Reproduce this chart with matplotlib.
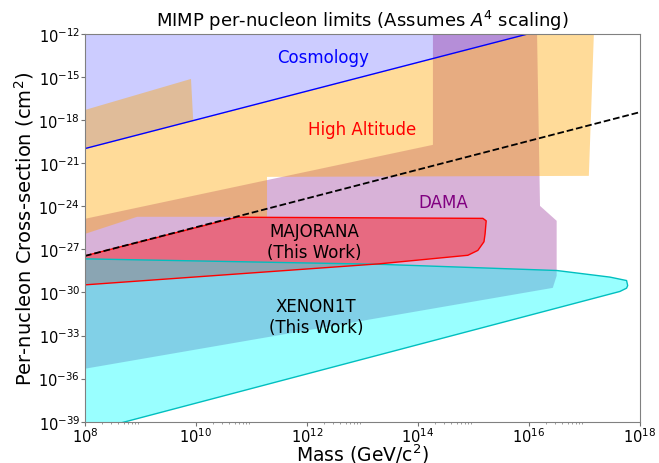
import matplotlib
matplotlib.use("Agg")
import matplotlib.pyplot as plt
import numpy as np

# Cosmology bound (line, region above it is excluded)
cosmo_mass = [1e8, 1e18]
cosmo_xsec = [1.05e-20, 1.05e-10]

# A^4 reference line (dashed)
ref_mass = [1e8, 1e18]
ref_xsec = [3.5e-28, 3.6e-18]

# High altitude experiments (outline, log10 values)
alt_logm = [8.0, 9.91, 9.95, 17.0, 17.18, 17.08, 11.28, 11.28, 8.94, 8.0]
alt_logs = [-17.29, -15.13, -18.03, -10.98, -10.98, -21.88, -21.95, -24.73, -24.73, -25.92]

# DAMA region
dama_logm = [8.0, 14.27, 14.27, 16.14, 16.20, 16.50, 16.50, 16.43, 8.0]
dama_logs = [-24.87, -19.72, -10.5, -10.5, -23.97, -25.01, -28.84, -29.68, -35.31]

# MAJORANA (this work)
maj_logm = [8.0, 10.74, 15.17, 15.23, 15.21, 15.19, 15.08, 14.90, 13.32, 8.0]
maj_logs = [-27.45, -24.76, -24.84, -25.01, -25.92, -26.47, -27.07, -27.41, -28.0, -29.47]

# XENON1T (this work)
xe_logm = [8.0, 13.32, 16.50, 17.46, 17.76, 17.78, 17.76, 17.64, 8.75, 8.0]
xe_logs = [-27.66, -28.04, -28.47, -28.93, -29.17, -29.52, -29.70, -29.93, -38.98, -39.74]

xticks = [1e8, 1e10, 1e12, 1e14, 1e16, 1e18]
yticks = [1e-39, 1e-36, 1e-33, 1e-30, 1e-27, 1e-24, 1e-21, 1e-18, 1e-15, 1e-12]

fig = plt.figure(figsize=(6.59, 4.64), dpi=100)
ax = fig.add_axes([0.129, 0.089, 0.842, 0.8356])

ax.fill_between(cosmo_mass, cosmo_xsec, [1e-8, 1e-8], color='blue', alpha=0.2, lw=0)
ax.plot(cosmo_mass, cosmo_xsec, color='blue', lw=1)

ax.fill(10 ** np.array(dama_logm), 10 ** np.array(dama_logs), color='purple', alpha=0.3, lw=0)
ax.fill(10 ** np.array(alt_logm), 10 ** np.array(alt_logs), color='orange', alpha=0.4, lw=0)

ax.fill(10 ** np.array(maj_logm), 10 ** np.array(maj_logs), color='red', alpha=0.4, lw=0)
ax.fill(10 ** np.array(xe_logm), 10 ** np.array(xe_logs), color='cyan', alpha=0.4, lw=0)

ax.plot(10 ** np.array(xe_logm + [xe_logm[0]]), 10 ** np.array(xe_logs + [xe_logs[0]]), color='c', lw=1)
ax.plot(10 ** np.array(maj_logm + [maj_logm[0]]), 10 ** np.array(maj_logs + [maj_logs[0]]), color='red', lw=1)

ax.plot(ref_mass, ref_xsec, 'k--', lw=1.3)

ax.text(10 ** 12.29, 10 ** -13.6, 'Cosmology', color='blue', fontsize=12, ha='center', va='center')
ax.text(10 ** 12.99, 10 ** -18.61, 'High Altitude', color='red', fontsize=12, ha='center', va='center')
ax.text(10 ** 14.45, 10 ** -23.69, 'DAMA', color='purple', fontsize=12, ha='center', va='center')
ax.text(10 ** 12.14, 10 ** -26.47, 'MAJORANA\n(This Work)', color='black', fontsize=12, ha='center', va='center')
ax.text(10 ** 12.16, 10 ** -31.69, 'XENON1T\n(This Work)', color='black', fontsize=12, ha='center', va='center')

ax.set_xscale('log')
ax.set_yscale('log')
ax.set_xlim(1e8, 1e18)
ax.set_ylim(1e-39, 1e-12)
ax.set_xticks(xticks)
ax.set_yticks(yticks)
ax.set_xticks([k * 10.0 ** d for d in range(8, 18, 2) for k in range(2, 10)], minor=True)
ax.yaxis.set_minor_locator(matplotlib.ticker.NullLocator())
ax.tick_params(which='major', length=3, width=0.8, pad=0.5)
ax.tick_params(which='minor', length=1.5, width=0.5)
ax.tick_params(which='both', labelsize=10.5, colors='0.45', labelcolor='black')
for s in ax.spines.values():
    s.set_color('0.5')

ax.set_title('MIMP per-nucleon limits (Assumes $A^4$ scaling)', fontsize=13)
ax.set_xlabel('Mass (GeV/c$^2$)', fontsize=13.5, va='center')
ax.xaxis.set_label_coords(0.5, -0.082)
ax.set_ylabel('Per-nucleon Cross-section (cm$^2$)', fontsize=14, va='center')
ax.yaxis.set_label_coords(-0.11, 0.5)

fig.savefig('out.png', dpi=100)
